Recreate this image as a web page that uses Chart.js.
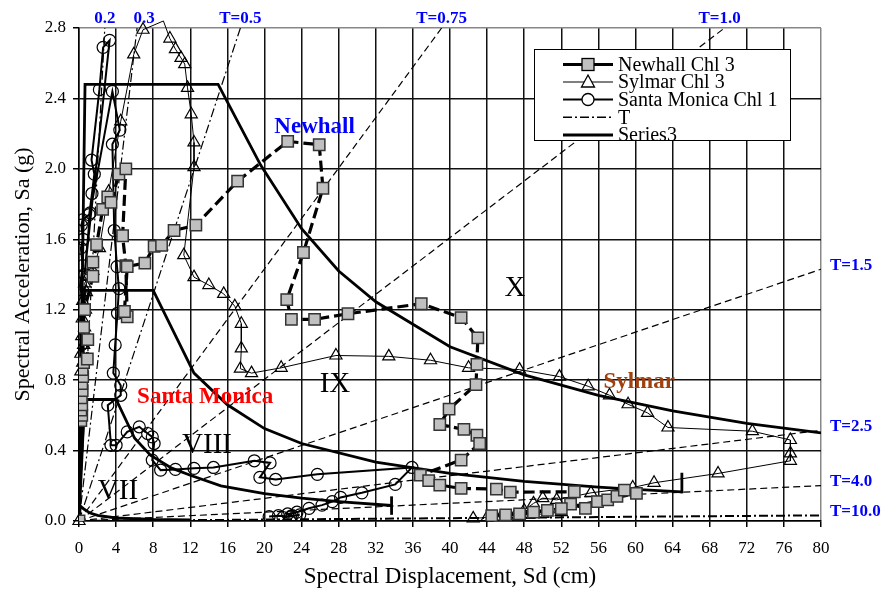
<!DOCTYPE html>
<html>
<head>
<meta charset="utf-8">
<script src="https://cdn.jsdelivr.net/npm/chart.js@4/dist/chart.umd.min.js"></script>
<style>
  html, body { margin: 0; padding: 0; background: #fff; }
  #wrap { width: 885px; height: 600px; }
  canvas { display: block; }
</style>
</head>
<body>
<div id="wrap"><canvas id="chart" width="885" height="600"></canvas></div>
<script>
// ---- axis ticks ----
const xTickValues = [0,4,8,12,16,20,24,28,32,36,40,44,48,52,56,60,64,68,72,76,80];
const xTickLabels = ['0','4','8','12','16','20','24','28','32','36','40','44','48','52','56','60','64','68','72','76','80'];
const yTickValues = [0,0.4,0.8,1.2,1.6,2.0,2.4,2.8];
const yTickLabels = ['0.0','0.4','0.8','1.2','1.6','2.0','2.4','2.8'];

// ---- response trajectories (Sd in cm, Sa in g) ----
const newhallSd = [0,0.2,0.3,0.2,0.3,0.25,0.35,0.3,0.4,0.35,0.5,0.9,0.95,0.5,0.6,1.5,1.5,1.9,2.55,3.1,3.45,4.3,5.05,4.7,5.05,5.2,4.9,5.2,7.1,8.1,8.9,10.25,12.6,17.1,22.5,25.9,26.3,24.2,22.4,22.9,25.4,29.0,36.9,41.2,43.0,42.9,42.8,39.9,38.9,41.5,42.9,43.2,41.2,36.8,37.7,38.9,41.2,45.0,46.5,53.4,53.0,54.6,55.9,57.0,58.0,58.8,60.1,52.0,50.5,49.0,47.5,46.0,44.5];
const newhallSa = [0,0.57,0.6,0.63,0.66,0.7,0.74,0.78,0.82,0.86,0.9,0.92,1.03,1.1,1.2,1.39,1.47,1.57,1.77,1.84,1.81,1.97,2.0,1.62,1.45,1.16,1.19,1.445,1.465,1.56,1.565,1.65,1.68,1.93,2.156,2.137,1.89,1.525,1.257,1.145,1.145,1.177,1.234,1.155,1.04,0.89,0.775,0.635,0.548,0.52,0.487,0.44,0.346,0.261,0.229,0.204,0.185,0.181,0.164,0.166,0.096,0.072,0.11,0.12,0.14,0.175,0.157,0.07,0.06,0.05,0.04,0.035,0.03];

const sylmarSd = [0,0.2,0.4,0.2,0.5,0.3,0.6,0.35,0.7,0.4,0.8,0.6,1.0,1.5,2.2,3.2,4.5,5.9,6.9,9.1,9.8,10.4,11.0,11.4,11.7,12.1,12.4,12.4,11.3,12.4,14.0,15.6,16.8,17.5,17.5,17.4,18.6,21.8,27.7,33.4,37.9,42.0,47.5,51.8,54.9,57.2,59.2,61.3,63.5,72.6,76.7,76.7,76.7,68.9,62.0,59.7,55.2,51.5,50.0,49.0,48.0,52.0,50.0,48.5,47.0,45.5,44.0,42.5];
const sylmarSa = [0,0.85,0.9,0.95,1.0,1.05,1.1,1.15,1.2,1.25,1.3,1.35,1.39,1.42,1.55,1.87,2.27,2.65,2.79,2.84,2.74,2.68,2.63,2.595,2.46,2.31,2.15,2.01,1.51,1.385,1.34,1.29,1.22,1.12,0.98,0.865,0.84,0.87,0.94,0.935,0.913,0.87,0.86,0.82,0.765,0.714,0.663,0.614,0.531,0.51,0.46,0.384,0.342,0.27,0.217,0.19,0.16,0.12,0.13,0.1,0.06,0.05,0.04,0.035,0.03,0.025,0.02,0.015];

const santaMonicaSd = [0,0.1,0.25,0.1,0.3,0.15,0.4,0.2,0.45,0.25,0.4,1.1,1.4,1.65,1.35,2.2,2.6,3.3,0.6,1.2,3.6,4.4,3.6,3.8,4.1,4.3,4.15,3.9,3.7,4.5,4.5,3.1,3.45,4.0,5.2,6.5,7.4,7.9,8.1,7.9,8.8,10.4,12.4,14.5,18.9,20.6,19.5,21.2,25.7,35.9,34.1,30.5,28.2,27.3,26.2,24.8,23.5,22.5,23.0,22.0,23.8,22.8,21.5,20.5];
const santaMonicaSa = [0,0.9,1.0,1.1,1.25,1.35,1.45,1.55,1.6,1.68,1.71,1.74,1.86,1.97,2.05,2.45,2.69,2.73,1.4,1.75,2.44,2.22,2.14,1.65,1.445,1.32,1.18,1.0,0.84,0.77,0.714,0.658,0.43,0.43,0.506,0.535,0.497,0.478,0.44,0.346,0.289,0.293,0.299,0.304,0.342,0.33,0.248,0.236,0.265,0.304,0.208,0.16,0.134,0.11,0.09,0.072,0.05,0.04,0.03,0.02,0.035,0.025,0.03,0.025];

// ---- constant-period lines ----
const periodLabels = ['0.2','0.3','T=0.5','T=0.75','T=1.0','T=1.5','T=2.5','T=4.0','T=10.0'];
const periodEndSd  = [2.78, 6.26, 17.4, 39.1, 69.6, 80, 80, 80, 80];
const periodEndSa  = [2.8, 2.8, 2.8, 2.8, 2.8, 1.43, 0.515, 0.201, 0.032];

// ---- demand boundary curves (Series3) ----
const curveXSd = [0,0.65,15,19.6,24,28,32,40,48,56,64,72,80];
const curveXSa = [0,2.48,2.48,2.02,1.66,1.42,1.245,0.99,0.83,0.714,0.625,0.555,0.5];
const curveIXSd = [0,0.6,8,12.4,16,20,24,32,40,48,56,60,65];
const curveIXSa = [0,1.31,1.31,0.84,0.66,0.525,0.44,0.334,0.27,0.225,0.192,0.18,0.165];
const curveVIIISd = [0,0.6,4,6,7.7,10,12,15.3,20,24,28,33.7];
const curveVIIISa = [0,0.69,0.69,0.47,0.374,0.3,0.26,0.2,0.155,0.13,0.11,0.088];
const curveVIISd = [0,0.15,0.6,1.2,2,4,8,12];
const curveVIISa = [0,0.085,0.065,0.045,0.032,0.017,0.009,0.006];
const tickIXSd = [65,65];
const tickIXSa = [0.157,0.274];
const tickVIIISd = [33.7,33.7];
const tickVIIISa = [0.035,0.14];

// ---- text drawn inside the plot ----
const regionNames = ['X','IX','VIII','VII'];
const stationNames = ['Newhall','Sylmar','Santa Monica'];
const legendNames = ['Newhall Chl 3','Sylmar Chl 3','Santa Monica Chl 1','T','Series3'];

const SERIF = '"Liberation Serif", "Times New Roman", serif';
const pts = (xs, ys) => xs.map((x, i) => ({ x: x, y: ys[i] }));

const periodDash = (label) =>
  (label === '0.2' || label === '0.3' || label === 'T=0.5' || label === 'T=10.0') ? [9, 3, 2, 3] : [7, 4];

const periodSets = periodLabels.map((label, i) => ({
  label: label,
  data: [{ x: 0, y: 0 }, { x: periodEndSd[i], y: periodEndSa[i] }],
  showLine: true,
  borderColor: '#000',
  borderWidth: label === 'T=10.0' ? 2 : 1.2,
  borderDash: periodDash(label),
  pointRadius: 0,
  order: 5
}));

const boundary = (xs, ys) => ({
  label: 'Series3',
  data: pts(xs, ys),
  showLine: true,
  borderColor: '#000',
  borderWidth: 2.8,
  pointRadius: 0,
  order: 4
});

const datasets = [
  {
    label: 'Newhall Chl 3',
    data: pts(newhallSd, newhallSa),
    showLine: true,
    borderColor: '#000',
    borderWidth: 3.2,
    borderDash: [11, 5],
    pointStyle: 'rect',
    pointRadius: 8,
    pointBackgroundColor: '#c0c0c0',
    pointBorderColor: '#333',
    pointBorderWidth: 1.5,
    order: 1
  },
  {
    label: 'Sylmar Chl 3',
    data: pts(sylmarSd, sylmarSa),
    showLine: true,
    borderColor: '#000',
    borderWidth: 1,
    pointStyle: 'triangle',
    pointRadius: (ctx) => (sylmarSa[ctx.dataIndex] > 2.8 ? 0 : 7),
    pointBackgroundColor: 'rgba(255,255,255,0)',
    pointBorderColor: '#000',
    pointBorderWidth: 1.2,
    clip: false,
    order: 3
  },
  {
    label: 'Santa Monica Chl 1',
    data: pts(santaMonicaSd, santaMonicaSa),
    showLine: true,
    borderColor: '#000',
    borderWidth: 2,
    pointStyle: 'circle',
    pointRadius: 6,
    pointBackgroundColor: 'rgba(255,255,255,0)',
    pointBorderColor: '#000',
    pointBorderWidth: 1.2,
    order: 2
  },
  ...periodSets,
  boundary(curveXSd, curveXSa),
  boundary(curveIXSd, curveIXSa),
  boundary(curveVIIISd, curveVIIISa),
  boundary(curveVIISd, curveVIISa),
  boundary(tickIXSd, tickIXSa),
  boundary(tickVIIISd, tickVIIISa)
];

// Annotations, legend box and period labels
const overlay = {
  id: 'overlay',
  afterDatasetsDraw(chart) {
    const ctx = chart.ctx;
    const xs = chart.scales.x, ys = chart.scales.y;
    const px = (v) => xs.getPixelForValue(v);
    const py = (v) => ys.getPixelForValue(v);
    ctx.save();

    // period labels
    ctx.fillStyle = '#0000ff';
    ctx.font = 'bold 17px ' + SERIF;
    ctx.textBaseline = 'middle';
    periodLabels.forEach((label, i) => {
      if (periodEndSa[i] >= 2.8) {
        ctx.textAlign = 'center';
        const shift = label === '0.3' ? 7 : (label === 'T=1.0' ? -5 : 0);
        ctx.fillText(label, px(periodEndSd[i]) + shift, chart.chartArea.top - 9);
      } else {
        ctx.textAlign = 'left';
        ctx.fillText(label, chart.chartArea.right + 9, py(periodEndSa[i]) - 4);
      }
    });

    // region numerals
    ctx.fillStyle = '#000';
    ctx.textAlign = 'center';
    ctx.font = '29px ' + SERIF;
    const regionAt = [[47.0, 1.32], [27.6, 0.775], [13.8, 0.43], [4.2, 0.17]];
    regionNames.forEach((n, i) => ctx.fillText(n, px(regionAt[i][0]), py(regionAt[i][1])));

    // station names
    ctx.font = 'bold 23px ' + SERIF;
    const stationAt = [[25.4, 2.24], [60.4, 0.79], [13.6, 0.705]];
    const stationColor = ['#0000ff', '#a0400f', '#ff0000'];
    stationNames.forEach((n, i) => {
      ctx.fillStyle = stationColor[i];
      ctx.fillText(n, px(stationAt[i][0]), py(stationAt[i][1]));
    });

    // legend
    const L = 534, T = 49, R = 790, B = 140;
    ctx.fillStyle = '#fff';
    ctx.fillRect(L, T, R - L, B - T);
    ctx.save();
    ctx.beginPath();
    ctx.rect(L, T, R - L, B - T);
    ctx.clip();
    const rowY = [64.5, 82, 99.5, 117.3, 135];
    const lx0 = 563, lx1 = 613, mx = 588;
    legendNames.forEach((name, i) => {
      const y = rowY[i];
      ctx.strokeStyle = '#000';
      ctx.setLineDash(i === 3 ? [9, 3, 2, 3] : []);
      ctx.lineWidth = [3, 1, 2, 1.5, 3][i];
      ctx.beginPath();
      ctx.moveTo(lx0, y);
      ctx.lineTo(lx1, y);
      ctx.stroke();
      ctx.setLineDash([]);
      ctx.lineWidth = 1.3;
      if (i === 0) {
        ctx.fillStyle = '#c0c0c0';
        ctx.fillRect(mx - 6, y - 6, 12, 12);
        ctx.strokeRect(mx - 6, y - 6, 12, 12);
      } else if (i === 1) {
        ctx.fillStyle = '#fff';
        ctx.beginPath();
        ctx.moveTo(mx, y - 7);
        ctx.lineTo(mx + 6.5, y + 5);
        ctx.lineTo(mx - 6.5, y + 5);
        ctx.closePath();
        ctx.fill();
        ctx.stroke();
      } else if (i === 2) {
        ctx.fillStyle = '#fff';
        ctx.beginPath();
        ctx.arc(mx, y, 6, 0, Math.PI * 2);
        ctx.fill();
        ctx.stroke();
      }
      ctx.fillStyle = '#000';
      ctx.font = '20px ' + SERIF;
      ctx.textAlign = 'left';
      ctx.textBaseline = 'middle';
      ctx.fillText(name, 618, y + 1);
    });
    ctx.restore();
    ctx.strokeStyle = '#000';
    ctx.lineWidth = 1;
    ctx.strokeRect(L + 0.5, T + 0.5, R - L, B - T);
    ctx.restore();
  }
};

new Chart(document.getElementById('chart'), {
  type: 'scatter',
  data: { datasets: datasets },
  plugins: [overlay],
  options: {
    responsive: false,
    animation: false,
    devicePixelRatio: 1,
    events: [],
    layout: { padding: { top: 28, right: 64, left: 0, bottom: 0 } },
    elements: { line: { tension: 0 } },
    plugins: { legend: { display: false }, tooltip: { enabled: false } },
    scales: {
      x: {
        type: 'linear',
        min: 0, max: 80,
        afterBuildTicks: (s) => { s.ticks = xTickValues.map(v => ({ value: v })); },
        afterFit: (s) => { s.height = 79; },
        ticks: {
          callback: (v) => xTickLabels[xTickValues.indexOf(v)],
          font: { family: SERIF, size: 17 },
          color: '#000',
          padding: 11,
          maxRotation: 0,
          autoSkip: false
        },
        grid: {
          color: (c) => (c.tick && c.tick.value === 80 ? '#888' : '#111'),
          lineWidth: 1.5,
          tickLength: 6,
          tickColor: '#000'
        },
        border: { color: '#000', width: 1.5 },
        title: {
          display: true,
          text: 'Spectral Displacement, Sd (cm)',
          font: { family: SERIF, size: 23 },
          color: '#000',
          padding: { top: 0, bottom: 9 }
        }
      },
      y: {
        type: 'linear',
        min: 0, max: 2.8,
        afterBuildTicks: (s) => { s.ticks = yTickValues.map(v => ({ value: v })); },
        afterFit: (s) => { s.width = 79; },
        ticks: {
          callback: (v) => yTickLabels[yTickValues.findIndex(t => Math.abs(t - v) < 1e-6)],
          font: { family: SERIF, size: 17 },
          color: '#000',
          padding: 7,
          autoSkip: false
        },
        grid: {
          color: (c) => (c.tick && Math.abs(c.tick.value - 2.8) < 1e-6 ? '#888' : '#111'),
          lineWidth: 1.5,
          tickLength: 6,
          tickColor: '#000'
        },
        border: { color: '#000', width: 1.5 },
        title: {
          display: true,
          text: 'Spectral Acceleration, Sa (g)',
          font: { family: SERIF, size: 22 },
          color: '#000',
          padding: { top: 10, bottom: 0 }
        }
      }
    }
  }
});
</script>
</body>
</html>
